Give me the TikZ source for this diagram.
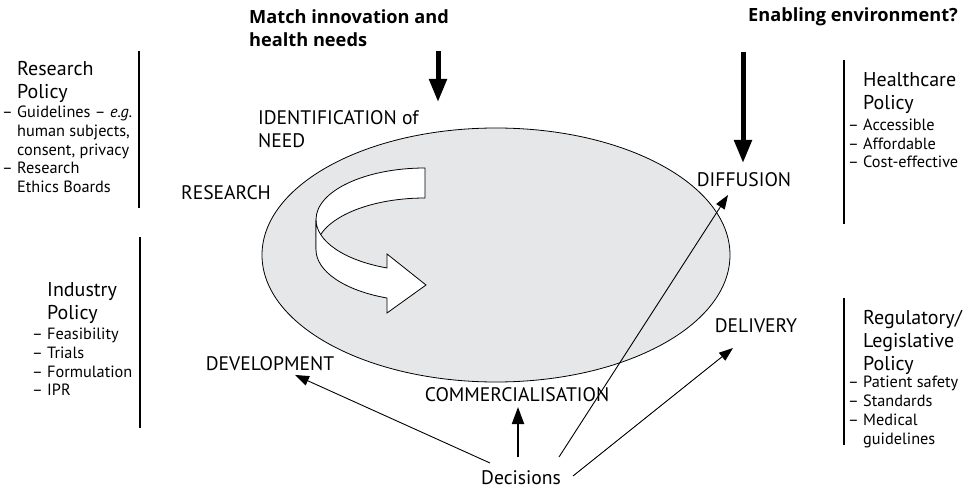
\documentclass[tikz,border=0pt]{standalone}
\usepackage{fontspec}
\setmainfont{PT Sans}
\newfontfamily\headfont{Open Sans}
\usetikzlibrary{arrows.meta,positioning}
\definecolor{cyclegray}{RGB}{230,231,232}
\tikzset{
  stage/.style={font=\fontsize{19.6}{23}\selectfont,inner sep=0pt,align=left},
  poltitle/.style={font=\fontsize{20}{23}\selectfont,inner sep=0pt,align=left,anchor=west},
  politems/.style={font=\fontsize{16.3}{18.75}\selectfont,inner sep=0pt,align=left,anchor=west},
  headline/.style={font=\headfont\bfseries\fontsize{18.2}{23}\selectfont,inner sep=0pt,align=left,anchor=west},
  bigarrow/.style={line width=5pt,-{Triangle[width=17pt,length=23pt]}},
  thinarrow/.style={line width=0.9pt,-{Triangle[width=10pt,length=14pt]}},
  midarrow/.style={line width=2pt,-{Triangle[width=12pt,length=17pt]}},
  divider/.style={line width=1.8pt},
  ribbon/.style={fill=white,draw,line width=0.8pt,line join=miter}
}
\begin{document}
\begin{tikzpicture}[x=1pt,y=1pt]
\useasboundingbox (0,0) rectangle (969,491);
% the cycle
\draw[fill=cyclegray,line width=0.8pt] (496,236) ellipse [x radius=234pt,y radius=127pt];
% curved arrow inside
\draw[ribbon] (425,323) arc[start angle=90,end angle=180,x radius=109pt,y radius=51.6pt]
  -- ++(0,-30) arc[start angle=180,end angle=90,x radius=109pt,y radius=51.6pt] -- cycle;
\draw[ribbon] (316,271.4) arc[start angle=180,end angle=249.6,x radius=109pt,y radius=51.6pt]
  -- (387,237) -- (426,206) -- (387,178) -- (387,193)
  arc[start angle=249.6,end angle=180,x radius=109pt,y radius=51.6pt] -- cycle;
% headlines
\node[headline] (match) at (249,462.5) {Match innovation and\\health needs};
\node[headline] (enabling) at (748,474) {Enabling environment?};
\coordinate (matchtail) at (438,440);
\coordinate (matchtip) at (438,389);
\coordinate (enabletail) at (743,439);
\coordinate (enabletip) at (743,328);
\draw[bigarrow] (matchtail) -- (matchtip);
\draw[bigarrow] (enabletail) -- (enabletip);
% stages
\node[stage,anchor=west] (ident) at (258,362) {IDENTIFICATION of\\NEED};
\node[stage] (research) at (226,298) {RESEARCH};
\node[stage] (diffusion) at (744,311) {DIFFUSION};
\node[stage] (delivery) at (756,165) {DELIVERY};
\node[stage] (development) at (270,127) {DEVELOPMENT};
\node[stage] (commercial) at (517,96) {COMMERCIALISATION};
\node[stage] (decisions) at (521,13) {Decisions};
% decisions
\draw[thinarrow] ([shift={(-31,15)}]decisions.center) -- ([shift={(25,-11)}]development.center);
\draw[midarrow] ([shift={(-3,21)}]decisions.center) -- ([shift={(1,-12)}]commercial.center);
\draw[thinarrow] ([shift={(38,21)}]decisions.center) -- ([shift={(-16,-15)}]diffusion.center);
\draw[thinarrow] ([shift={(52,2)}]decisions.center) -- ([shift={(-23,-22)}]delivery.center);
% policies
\draw[divider] (139,440) -- (139,283);
\draw[divider] (140,254) -- (140,63);
\draw[divider] (844,431) -- (844,267);
\draw[divider] (844,193) -- (844,46);
\node[poltitle] (respol) at (17,409.5) {Research\\Policy};
\node[politems] (resitems) at (17,341.5) {\llap{– }Guidelines – \textit{e.g.}\\human subjects,\\consent, privacy\\\llap{– }Research\\Ethics Boards};
\node[poltitle] (indpol) at (47,187.5) {Industry\\Policy};
\node[politems] (inditems) at (47,129) {\llap{– }Feasibility\\\llap{– }Trials\\\llap{– }Formulation\\\llap{– }IPR};
\node[poltitle] (healthpol) at (863,398) {Healthcare\\Policy};
\node[politems] (healthitems) at (863,347.5) {\llap{– }Accessible\\\llap{– }Affordable\\\llap{– }Cost-effective};
\node[poltitle] (regpol) at (863,149) {Regulatory/\\Legislative\\Policy};
\node[politems] (regitems) at (863,79) {\llap{– }Patient safety\\\llap{– }Standards\\\llap{– }Medical\\guidelines};
\end{tikzpicture}
\end{document}
